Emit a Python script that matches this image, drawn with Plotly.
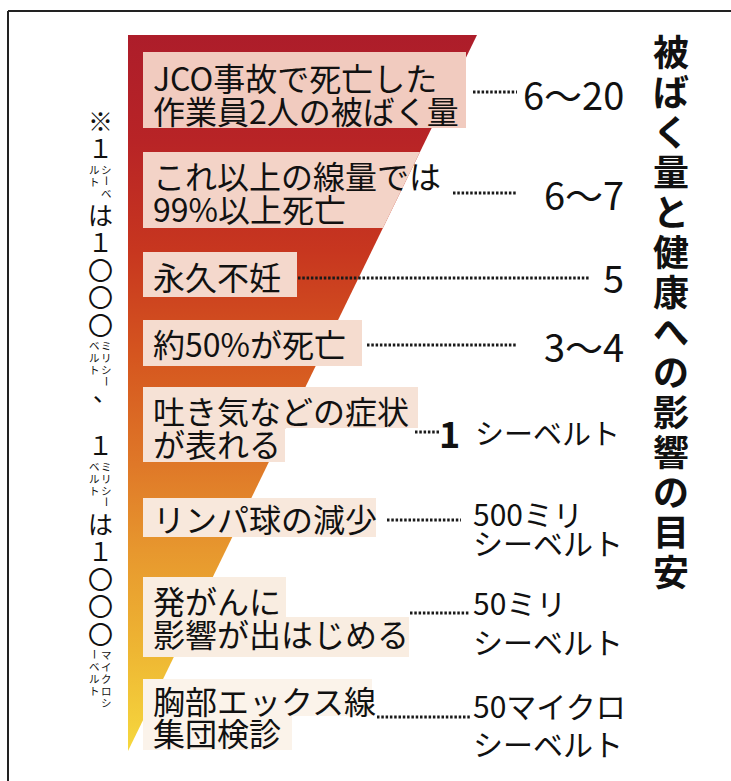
import plotly.graph_objects as go

# ---------------- data ----------------
labels = [
    ["JCO事故で死亡した", "作業員2人の被ばく量"],
    ["これ以上の線量では", "99%以上死亡"],
    ["永久不妊"],
    ["約50%が死亡"],
    ["吐き気などの症状", "が表れる"],
    ["リンパ球の減少"],
    ["発がんに", "影響が出はじめる"],
    ["胸部エックス線", "集団検診"],
]
value_main = ["6～20", "6～7", "5", "3～4", "1", "500ミリ", "50ミリ", "50マイクロ"]
value_unit = ["", "", "", "", "シーベルト", "シーベルト", "シーベルト", "シーベルト"]
title_text = "被ばく量と健康への影響の目安"
note_parts = [("※", 0), ("１", 0), ("シーベルト", 1), ("は", 0), ("１", 0), ("〇", 0), ("〇", 0), ("〇", 0),
              ("ミリシーベルト", 1), ("、", 0), ("１", 0), ("ミリシーベルト", 1), ("は", 0), ("１", 0),
              ("〇", 0), ("〇", 0), ("〇", 0), ("マイクロシーベルト", 1)]

# ---------------- layout constants ----------------
W, H = 731, 781
FONT = "Noto Sans CJK JP"
WX0, WX1, WY0, WYTIP = 128, 477, 35, 751


def sx(y):
    return WX1 - (WX1 - WX0) * (y - WY0) / (WYTIP - WY0)


label_y = [[77, 110], [175, 208], [276], [343], [410, 443], [518], [600, 633], [700, 732]]
box_rects = [
    [(52, 128, 466)],
    [(152, 228, 460)],
    [(252, 297, 297)],
    [(320, 366, 362)],
    [(387, 428, 418), (428, 462, 285)],
    [(498, 537, 376)],
    [(577, 617, 286), (617, 657, 409)],
    [(679, 716, 372), (716, 750, 292)],
]
box_clip = [False, True, False, False, False, False, False, False]
box_color = ["#f1cbbf", "#f3d3c7", "#f4d8cc", "#f5dccf", "#f6e2d6", "#f8e8dc", "#f9ede1", "#fbf3ea"]
dots = [(473, 517, 92), (453, 517, 193), (298, 589, 278), (367, 516, 345), (415, 439, 432),
        (387, 461, 520), (410, 470, 613), (377, 470, 717)]

fig = go.Figure()

# wedge with vertical gradient
fig.add_trace(go.Scatter(
    x=[WX0, WX1, WX0, WX0], y=[WY0, WY0, WYTIP, WY0],
    mode="lines", line=dict(width=0, color="rgba(0,0,0,0)"),
    fill="toself",
    fillgradient=dict(type="vertical", start=WY0, stop=WYTIP,
                      colorscale=[[0, "#ad1d2a"], [0.15, "#b82426"], [0.3, "#c7361f"],
                                  [0.45, "#d5561f"], [0.6, "#df7828"], [0.72, "#e7972e"],
                                  [0.86, "#eeb633"], [1, "#f6d83e"]]),
    hoverinfo="skip", showlegend=False))

# pink label boxes
for rects, clip, col in zip(box_rects, box_clip, box_color):
    for (y0, y1, xr) in rects:
        if clip:
            xs = [143, min(xr, sx(y0)), min(xr, sx(y1)), 143, 143]
        else:
            xs = [143, xr, xr, 143, 143]
        fig.add_trace(go.Scatter(x=xs, y=[y0, y0, y1, y1, y0], mode="lines",
                                 line=dict(width=0, color=col), fill="toself", fillcolor=col,
                                 hoverinfo="skip", showlegend=False))

# dotted leaders
for (x0, x1, y) in dots:
    fig.add_trace(go.Scatter(x=[x0, x1], y=[y, y], mode="lines",
                             line=dict(color="#1a1a1a", width=3, dash="2.5px,1.8px"),
                             hoverinfo="skip", showlegend=False))

ann = []


def txt(x, y, s, size, xanchor="left", bold=False, angle=0):
    ann.append(dict(x=x, y=y, xref="x", yref="y", text=s, showarrow=False,
                    xanchor=xanchor, yanchor="middle", textangle=angle,
                    font=dict(family=FONT, size=size, color="#111",
                              weight="bold" if bold else "normal")))


# label text
for lines, ys in zip(labels, label_y):
    for s, y in zip(lines, ys):
        txt(151, y, s, 32)

# values
big_y = [93, 193, 276, 345]
for i in range(4):
    txt(626, big_y[i], value_main[i], 38, xanchor="right")
txt(462, 432, value_main[4], 36, xanchor="right", bold=True)
txt(473, 432, value_unit[4], 29)
two_line_y = [(513, 542), (602, 641), (705, 743)]
for k, (ya, yb) in enumerate(two_line_y):
    i = 5 + k
    txt(471, ya, value_main[i], 30)
    txt(471, yb, value_unit[i], 30)

# vertical title
for i, ch in enumerate(title_text):
    txt(671, 50 + 40 * i, ch, 36, xanchor="center", bold=True)

# vertical note with warichu units (laid out top to bottom)
BIG, SMALL = 27.5, 12.0
cur = 106.0
for s, small in note_parts:
    if small:
        n = len(s)
        nr = (n + 1) // 2
        right, left = s[:nr], s[nr:]
        for col, xc in ((right, 106.5), (left, 94.5)):
            for j, ch in enumerate(col):
                yy = cur + 2 + SMALL * (j + 0.5)
                txt(xc, yy, ch, 10.5, xanchor="center", angle=90 if ch == "ー" else 0)
        cur += SMALL * nr + 3
    elif s == "、":
        txt(105, cur + 2, s, 24, xanchor="center")
        cur += 42
    else:
        txt(100, cur + BIG / 2, s, 25, xanchor="center")
        cur += BIG

fig.update_layout(
    width=W, height=H, margin=dict(l=0, r=0, t=0, b=0),
    paper_bgcolor="white", plot_bgcolor="white",
    xaxis=dict(range=[0, W], visible=False, fixedrange=True),
    yaxis=dict(range=[H, 0], visible=False, fixedrange=True),
    annotations=ann,
    shapes=[
        dict(type="line", xref="x", yref="y", x0=8, x1=W, y0=11, y1=11, line=dict(color="#222", width=2)),
        dict(type="line", xref="x", yref="y", x0=8, x1=8, y0=11, y1=H, line=dict(color="#222", width=2)),
    ],
)

fig.write_html("out.html")
